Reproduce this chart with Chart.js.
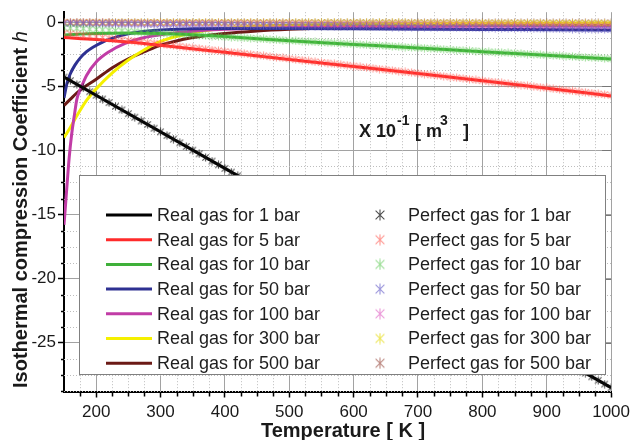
<!DOCTYPE html>
<html>
<head>
<meta charset="utf-8">
<style>
  body { margin: 0; background: #fff; }
  #grafico { display: block; }
</style>
<script src="https://cdn.jsdelivr.net/npm/chart.js@4.4.0/dist/chart.umd.min.js"></script>
</head>
<body>
<canvas id="grafico" width="635" height="440"></canvas>
<script>
// temperaturas dos pontos do gás perfeito [K]
const temps = [
  150,160,170,180,190,200,210,220,230,240,
  250,260,270,280,290,300,310,320,330,340,
  350,360,370,380,390,400,410,420,430,440,
  450,460,470,480,490,500,510,520,530,540,
  550,560,570,580,590,600,610,620,630,640,
  650,660,670,680,690,700,710,720,730,740,
  750,760,770,780,790,800,810,820,830,840,
  850,860,870,880,890,900,910,920,930,940,
  950,960,970,980,990,1000
];

const pressoes = ["1", "5", "10", "50", "100", "300", "500"];

// gás real (curvas)
const real1T = [150, 400, 700, 1000];
const real1 = [-4.28, -11.4, -19.95, -28.5];
const real5T = [150, 200, 250, 300, 400, 500, 600, 700, 800, 900, 1000];
const real5 = [-1.2, -1.35, -1.55, -1.8, -2.35, -2.9, -3.45, -4.0, -4.57, -5.15, -5.75];
const real10T = [150, 175, 200, 250, 300, 350, 400, 500, 600, 700, 800, 900, 1000];
const real10 = [-1.0, -0.93, -0.88, -0.84, -0.88, -0.98, -1.12, -1.45, -1.73, -2.01, -2.3, -2.58, -2.87];
const real50T = [150, 155, 160, 167, 175, 185, 195, 210, 221, 246, 270, 300, 350, 400, 500, 600, 800, 1000];
const real50 = [-5.9, -4.7, -4.0, -3.35, -2.8, -2.3, -1.95, -1.55, -1.32, -0.95, -0.74, -0.6, -0.52, -0.49, -0.5, -0.52, -0.56, -0.6];
const real100T = [150, 152, 155, 158, 162, 166, 170, 175, 185, 200, 220, 245, 270, 310, 350, 400, 500, 600, 800, 1000];
const real100 = [-15.8, -14.5, -12.5, -10.6, -8.7, -7.3, -6.0, -5.3, -4.15, -3.1, -2.3, -1.65, -1.25, -0.9, -0.7, -0.55, -0.42, -0.36, -0.3, -0.3];
const real300T = [150, 160, 170, 185, 200, 225, 250, 275, 300, 350, 400, 450, 500, 600, 800, 1000];
const real300 = [-9.0, -8.2, -7.3, -6.1, -5.2, -3.95, -2.95, -2.15, -1.5, -0.82, -0.48, -0.32, -0.23, -0.15, -0.1, -0.08];
const real500T = [150, 160, 175, 200, 225, 250, 275, 300, 350, 400, 450, 500, 600, 700, 800, 900, 1000];
const real500 = [-6.5, -6.0, -5.3, -4.45, -3.55, -2.85, -2.3, -1.8, -1.2, -0.88, -0.68, -0.55, -0.38, -0.28, -0.22, -0.17, -0.14];

// gás perfeito (marcadores), um valor por temperatura
const perf1 = [
  -4.28,-4.56,-4.85,-5.13,-5.42,-5.70,-5.99,-6.27,-6.56,-6.84,
  -7.13,-7.41,-7.70,-7.98,-8.27,-8.55,-8.84,-9.12,-9.41,-9.69,
  -9.98,-10.26,-10.55,-10.83,-11.12,-11.40,-11.69,-11.97,-12.26,-12.54,
  -12.83,-13.11,-13.40,-13.68,-13.97,-14.25,-14.54,-14.82,-15.11,-15.39,
  -15.68,-15.96,-16.25,-16.53,-16.82,-17.10,-17.39,-17.67,-17.96,-18.24,
  -18.53,-18.81,-19.10,-19.38,-19.67,-19.95,-20.24,-20.52,-20.81,-21.09,
  -21.38,-21.66,-21.95,-22.23,-22.52,-22.80,-23.09,-23.37,-23.66,-23.94,
  -24.23,-24.51,-24.80,-25.08,-25.37,-25.65,-25.94,-26.22,-26.51,-26.79,
  -27.08,-27.36,-27.65,-27.93,-28.22,-28.50
];
const perf5 = [
  -0.86,-0.91,-0.97,-1.03,-1.08,-1.14,-1.20,-1.25,-1.31,-1.37,
  -1.43,-1.48,-1.54,-1.60,-1.65,-1.71,-1.77,-1.82,-1.88,-1.94,
  -2.00,-2.05,-2.11,-2.17,-2.22,-2.28,-2.34,-2.39,-2.45,-2.51,
  -2.57,-2.62,-2.68,-2.74,-2.79,-2.85,-2.91,-2.96,-3.02,-3.08,
  -3.14,-3.19,-3.25,-3.31,-3.36,-3.42,-3.48,-3.53,-3.59,-3.65,
  -3.71,-3.76,-3.82,-3.88,-3.93,-3.99,-4.05,-4.10,-4.16,-4.22,
  -4.28,-4.33,-4.39,-4.45,-4.50,-4.56,-4.62,-4.67,-4.73,-4.79,
  -4.85,-4.90,-4.96,-5.02,-5.07,-5.13,-5.19,-5.24,-5.30,-5.36,
  -5.42,-5.47,-5.53,-5.59,-5.64,-5.70
];
const perf10 = [
  -0.43,-0.46,-0.48,-0.51,-0.54,-0.57,-0.60,-0.63,-0.66,-0.68,
  -0.71,-0.74,-0.77,-0.80,-0.83,-0.86,-0.88,-0.91,-0.94,-0.97,
  -1.00,-1.03,-1.05,-1.08,-1.11,-1.14,-1.17,-1.20,-1.23,-1.25,
  -1.28,-1.31,-1.34,-1.37,-1.40,-1.43,-1.45,-1.48,-1.51,-1.54,
  -1.57,-1.60,-1.62,-1.65,-1.68,-1.71,-1.74,-1.77,-1.80,-1.82,
  -1.85,-1.88,-1.91,-1.94,-1.97,-2.00,-2.02,-2.05,-2.08,-2.11,
  -2.14,-2.17,-2.19,-2.22,-2.25,-2.28,-2.31,-2.34,-2.37,-2.39,
  -2.42,-2.45,-2.48,-2.51,-2.54,-2.57,-2.59,-2.62,-2.65,-2.68,
  -2.71,-2.74,-2.76,-2.79,-2.82,-2.85
];
const perf50 = [
  -0.09,-0.09,-0.10,-0.10,-0.11,-0.11,-0.12,-0.13,-0.13,-0.14,
  -0.14,-0.15,-0.15,-0.16,-0.17,-0.17,-0.18,-0.18,-0.19,-0.19,
  -0.20,-0.21,-0.21,-0.22,-0.22,-0.23,-0.23,-0.24,-0.25,-0.25,
  -0.26,-0.26,-0.27,-0.27,-0.28,-0.29,-0.29,-0.30,-0.30,-0.31,
  -0.31,-0.32,-0.32,-0.33,-0.34,-0.34,-0.35,-0.35,-0.36,-0.36,
  -0.37,-0.38,-0.38,-0.39,-0.39,-0.40,-0.40,-0.41,-0.42,-0.42,
  -0.43,-0.43,-0.44,-0.44,-0.45,-0.46,-0.46,-0.47,-0.47,-0.48,
  -0.48,-0.49,-0.50,-0.50,-0.51,-0.51,-0.52,-0.52,-0.53,-0.54,
  -0.54,-0.55,-0.55,-0.56,-0.56,-0.57
];
const perf100 = [
  -0.04,-0.05,-0.05,-0.05,-0.05,-0.06,-0.06,-0.06,-0.07,-0.07,
  -0.07,-0.07,-0.08,-0.08,-0.08,-0.09,-0.09,-0.09,-0.09,-0.10,
  -0.10,-0.10,-0.11,-0.11,-0.11,-0.11,-0.12,-0.12,-0.12,-0.13,
  -0.13,-0.13,-0.13,-0.14,-0.14,-0.14,-0.15,-0.15,-0.15,-0.15,
  -0.16,-0.16,-0.16,-0.17,-0.17,-0.17,-0.17,-0.18,-0.18,-0.18,
  -0.19,-0.19,-0.19,-0.19,-0.20,-0.20,-0.20,-0.21,-0.21,-0.21,
  -0.21,-0.22,-0.22,-0.22,-0.23,-0.23,-0.23,-0.23,-0.24,-0.24,
  -0.24,-0.25,-0.25,-0.25,-0.25,-0.26,-0.26,-0.26,-0.27,-0.27,
  -0.27,-0.27,-0.28,-0.28,-0.28,-0.29
];
const perf300 = [
  -0.01,-0.02,-0.02,-0.02,-0.02,-0.02,-0.02,-0.02,-0.02,-0.02,
  -0.02,-0.02,-0.03,-0.03,-0.03,-0.03,-0.03,-0.03,-0.03,-0.03,
  -0.03,-0.03,-0.04,-0.04,-0.04,-0.04,-0.04,-0.04,-0.04,-0.04,
  -0.04,-0.04,-0.04,-0.05,-0.05,-0.05,-0.05,-0.05,-0.05,-0.05,
  -0.05,-0.05,-0.05,-0.06,-0.06,-0.06,-0.06,-0.06,-0.06,-0.06,
  -0.06,-0.06,-0.06,-0.06,-0.07,-0.07,-0.07,-0.07,-0.07,-0.07,
  -0.07,-0.07,-0.07,-0.07,-0.08,-0.08,-0.08,-0.08,-0.08,-0.08,
  -0.08,-0.08,-0.08,-0.08,-0.08,-0.09,-0.09,-0.09,-0.09,-0.09,
  -0.09,-0.09,-0.09,-0.09,-0.09,-0.10
];
const perf500 = [
  -0.01,-0.01,-0.01,-0.01,-0.01,-0.01,-0.01,-0.01,-0.01,-0.01,
  -0.01,-0.01,-0.02,-0.02,-0.02,-0.02,-0.02,-0.02,-0.02,-0.02,
  -0.02,-0.02,-0.02,-0.02,-0.02,-0.02,-0.02,-0.02,-0.02,-0.03,
  -0.03,-0.03,-0.03,-0.03,-0.03,-0.03,-0.03,-0.03,-0.03,-0.03,
  -0.03,-0.03,-0.03,-0.03,-0.03,-0.03,-0.03,-0.04,-0.04,-0.04,
  -0.04,-0.04,-0.04,-0.04,-0.04,-0.04,-0.04,-0.04,-0.04,-0.04,
  -0.04,-0.04,-0.04,-0.04,-0.05,-0.05,-0.05,-0.05,-0.05,-0.05,
  -0.05,-0.05,-0.05,-0.05,-0.05,-0.05,-0.05,-0.05,-0.05,-0.05,
  -0.05,-0.05,-0.06,-0.06,-0.06,-0.06
];

// eixos
const xTicks = [200, 300, 400, 500, 600, 700, 800, 900, 1000];
const yTicks = [0, -5, -10, -15, -20, -25];
const xMenor = [175,225,250,275,325,350,375,425,450,475,525,550,575,625,650,675,725,750,775,825,850,875,925,950,975];
const yMenor = [-1.25,-2.5,-3.75,-6.25,-7.5,-8.75,-11.25,-12.5,-13.75,-16.25,-17.5,-18.75,-21.25,-22.5,-23.75,-26.25,-27.5,-28.75];

const realT = [real1T, real5T, real10T, real50T, real100T, real300T, real500T];
const realH = [real1, real5, real10, real50, real100, real300, real500];
const perfH = [perf1, perf5, perf10, perf50, perf100, perf300, perf500];

const corLinha = ["#000000", "#ff2b2b", "#3fb03a", "#2e3192", "#c13ca6", "#f5f000", "#6b1a16"];
const corMarca = ["rgba(20,20,20,0.75)", "rgba(255,80,70,0.6)", "rgba(90,200,80,0.6)",
  "rgba(100,90,200,0.65)", "rgba(220,80,190,0.6)", "rgba(230,220,20,0.7)", "rgba(150,70,60,0.65)"];

const FONTE = '"Liberation Sans", Arial, sans-serif';

function estrela(cor, tam) {
  const c = document.createElement("canvas");
  c.width = tam;
  c.height = tam;
  const g = c.getContext("2d");
  g.strokeStyle = cor;
  g.lineWidth = 1.1;
  const m = tam / 2, r = tam / 2 - 0.5, d = r * 0.8;
  g.beginPath();
  g.moveTo(m, m - r); g.lineTo(m, m + r);
  g.moveTo(m - d, m - d); g.lineTo(m + d, m + d);
  g.moveTo(m + d, m - d); g.lineTo(m - d, m + d);
  g.stroke();
  return c;
}

const marcaLegenda = corMarca.map(c => estrela(c, 12));

const datasets = [];
pressoes.forEach((p, i) => {
  datasets.push({
    label: "Real gas for " + p + " bar",
    data: realT[i].map((t, j) => ({ x: t, y: realH[i][j] })),
    showLine: true,
    borderColor: corLinha[i],
    backgroundColor: corLinha[i],
    borderWidth: 3,
    pointRadius: 0,
    cubicInterpolationMode: "monotone",
    order: 1
  });
});
pressoes.forEach((p, i) => {
  datasets.push({
    label: "Perfect gas for " + p + " bar",
    data: temps.map((t, j) => ({ x: t, y: perfH[i][j] })),
    showLine: false,
    pointStyle: estrela(corMarca[i], 9),
    pointRadius: 4,
    order: 0
  });
});

const gradeMenor = {
  id: "gradeMenor",
  beforeDatasetsDraw(chart) {
    const { ctx, chartArea: a, scales: { x, y } } = chart;
    ctx.save();
    ctx.strokeStyle = "#bdbdbd";
    ctx.lineWidth = 1;
    ctx.setLineDash([1, 2]);
    ctx.beginPath();
    xMenor.forEach(v => {
      const px = Math.round(x.getPixelForValue(v)) + 0.5;
      ctx.moveTo(px, a.top); ctx.lineTo(px, a.bottom);
    });
    yMenor.forEach(v => {
      const py = Math.round(y.getPixelForValue(v)) + 0.5;
      ctx.moveTo(a.left, py); ctx.lineTo(a.right, py);
    });
    ctx.stroke();
    ctx.setLineDash([]);
    ctx.strokeStyle = "#000";
    ctx.lineWidth = 1.5;
    ctx.beginPath();
    xMenor.forEach(v => {
      const px = Math.round(x.getPixelForValue(v)) + 0.5;
      ctx.moveTo(px, a.bottom); ctx.lineTo(px, a.bottom + 5);
    });
    yMenor.forEach(v => {
      const py = Math.round(y.getPixelForValue(v)) + 0.5;
      ctx.moveTo(a.left - 3, py); ctx.lineTo(a.left, py);
    });
    ctx.stroke();
    ctx.strokeStyle = "#777";
    ctx.lineWidth = 1;
    ctx.beginPath();
    yTicks.forEach(v => {
      const py = Math.round(y.getPixelForValue(v)) + 0.5;
      ctx.moveTo(a.right - 9, py); ctx.lineTo(a.right, py);
    });
    ctx.stroke();
    ctx.restore();
  }
};

const legenda = {
  id: "legenda",
  afterDraw(chart) {
    const ctx = chart.ctx;
    const ds = chart.data.datasets;
    ctx.save();
    ctx.fillStyle = "#fff";
    ctx.fillRect(79, 175, 527, 200);
    ctx.strokeStyle = "#808080";
    ctx.lineWidth = 1;
    ctx.strokeRect(79.5, 175.5, 526, 199);
    ctx.font = "18px " + FONTE;
    ctx.fillStyle = "#1e1e1e";
    ctx.textBaseline = "middle";
    pressoes.forEach((p, i) => {
      const yy = 215 + i * 24.7;
      ctx.strokeStyle = ds[i].borderColor;
      ctx.lineWidth = 3;
      ctx.beginPath();
      ctx.moveTo(106, yy);
      ctx.lineTo(152, yy);
      ctx.stroke();
      ctx.fillText(ds[i].label, 157, yy + 1);
      ctx.drawImage(marcaLegenda[i], 380 - 6, yy - 6);
      ctx.fillText(ds[i + 7].label, 408, yy + 1);
    });
    ctx.restore();
  }
};

const textos = {
  id: "textos",
  afterDraw(chart) {
    const ctx = chart.ctx;
    ctx.save();
    ctx.fillStyle = "#1a1a1a";
    ctx.textBaseline = "alphabetic";

    // título do eixo x
    ctx.font = "bold 20px " + FONTE;
    ctx.textAlign = "center";
    ctx.fillText("Temperature [ K ]", 343, 437);

    // título do eixo y
    ctx.textAlign = "left";
    ctx.translate(27, 388);
    ctx.rotate(-Math.PI / 2);
    const t1 = "Isothermal compression Coefficient ";
    ctx.fillText(t1, 0, 0);
    const w = ctx.measureText(t1).width;
    ctx.font = "italic 20px " + FONTE;
    ctx.fillText("h", w, 0);
    ctx.setTransform(1, 0, 0, 1, 0, 0);

    // unidade
    ctx.font = "bold 18px " + FONTE;
    ctx.fillText("X 10", 359, 137);
    ctx.fillText("[ m", 415, 137);
    ctx.fillText("]", 463, 137);
    ctx.font = "bold 14px " + FONTE;
    ctx.fillText("-1", 397, 125);
    ctx.fillText("3", 440, 125);
    ctx.restore();
  }
};

new Chart(document.getElementById("grafico"), {
  type: "scatter",
  data: { datasets },
  options: {
    responsive: false,
    animation: false,
    events: [],
    layout: { padding: { left: 0, right: 20, top: 10, bottom: 0 } },
    plugins: { legend: { display: false }, tooltip: { enabled: false } },
    scales: {
      x: {
        type: "linear",
        min: 150,
        max: 1000,
        afterBuildTicks: s => { s.ticks = xTicks.map(v => ({ value: v })); },
        afterFit: s => { s.height = 48.5; },
        grid: { color: "#a2a2a2", lineWidth: 1, tickColor: "#000", tickLength: 6, tickWidth: 1.5 },
        border: { color: "#000", width: 2 },
        ticks: {
          color: "#1a1a1a", font: { family: FONTE, size: 17 }, padding: 5,
          maxRotation: 0, autoSkip: false, callback: v => String(v)
        }
      },
      y: {
        type: "linear",
        min: -28.8,
        max: 0.78,
        afterBuildTicks: s => { s.ticks = yTicks.map(v => ({ value: v })); },
        afterFit: s => { s.width = 64; },
        grid: { color: "#a2a2a2", lineWidth: 1, tickColor: "#000", tickLength: 6, tickWidth: 1.5 },
        border: { color: "#000", width: 2 },
        ticks: {
          color: "#1a1a1a", font: { family: FONTE, size: 17 }, padding: 2,
          autoSkip: false, callback: v => String(v)
        }
      }
    }
  },
  plugins: [gradeMenor, legenda, textos]
});
</script>
</body>
</html>
